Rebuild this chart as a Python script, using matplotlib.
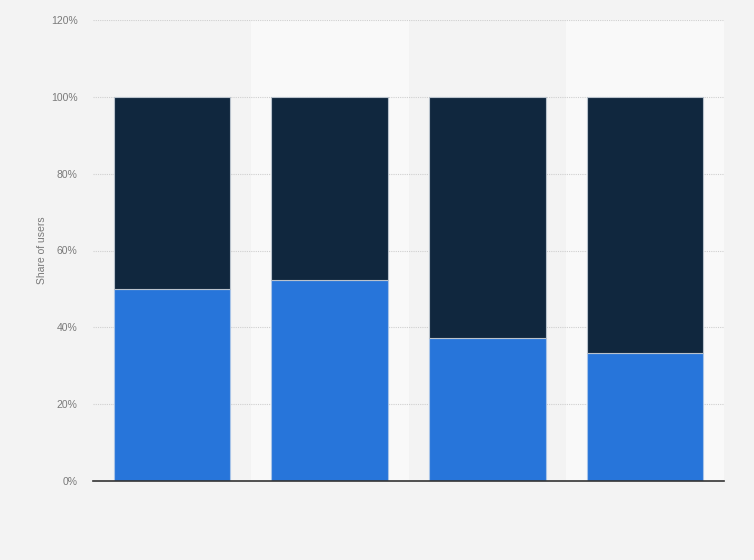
import matplotlib
matplotlib.use("Agg")
import matplotlib.pyplot as plt
import numpy as np

plt.rcParams['font.family'] = ['Liberation Sans', 'DejaVu Sans']

categories = ["", "", "", ""]
series_a = [50.0, 52.4, 37.3, 33.4]          # blue (bottom)
series_b = [100 - v for v in series_a]       # dark navy (top)
yticks = [0, 20, 40, 60, 80, 100, 120]
ytick_labels = ["0%", "20%", "40%", "60%", "80%", "100%", "120%"]

fig = plt.figure(figsize=(7.54, 5.6), dpi=100)
fig.patch.set_facecolor("#f3f3f3")
ax = fig.add_axes([93/754, 79/560, (724-93)/754, (481-20)/560])
ax.set_facecolor("#f3f3f3")

x = np.arange(len(categories))
for i in x:
    if i % 2 == 1:
        ax.axvspan(i - 0.5, i + 0.5, color="#f9f9f9", zorder=0, lw=0)

ax.set_xlim(-0.5, len(categories) - 0.5)
ax.set_ylim(0, 120)

for yv in yticks[1:]:
    ax.axhline(yv, color="#cfcfcf", lw=0.8, ls=(0, (1, 1)), zorder=1)

ax.bar(x, series_a, width=0.74, color="#2775da", edgecolor="#a8c4e8", lw=0.8, zorder=3)
ax.bar(x, series_b, bottom=series_a, width=0.74, color="#10273e", edgecolor="#b9c2cc", lw=0.8, zorder=3)

ax.set_yticks(yticks)
ax.set_yticklabels(ytick_labels, fontsize=7.5, color="#7a7a7a")
ax.set_xticks(x)
ax.set_xticklabels(categories)
ax.tick_params(axis="both", length=0)
ax.tick_params(axis="y", pad=11)

for s in ["top", "right", "left"]:
    ax.spines[s].set_visible(False)
ax.spines["bottom"].set_color("#333333")
ax.spines["bottom"].set_linewidth(1.2)
ax.spines["bottom"].set_zorder(4)

ax.set_ylabel("Share of users", fontsize=7.5, color="#7a7a7a", labelpad=3)

fig.savefig("out.png", dpi=100, facecolor=fig.get_facecolor())
